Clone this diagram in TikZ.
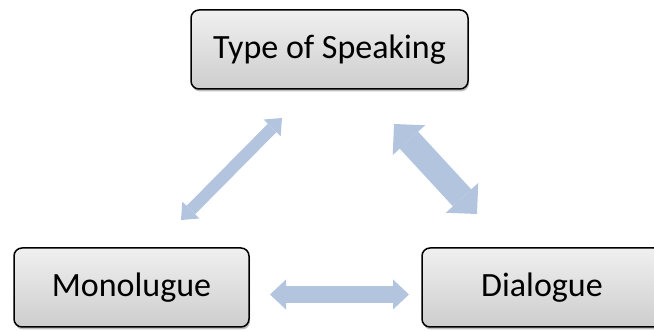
\documentclass[tikz,border=0pt]{standalone}
\usepackage{fontspec}
\setmainfont{Carlito}
\usetikzlibrary{arrows.meta,shadows}
\definecolor{arrowblue}{RGB}{179,196,222}
\definecolor{boxtop}{RGB}{240,240,240}
\definecolor{boxbot}{RGB}{205,205,205}
\tikzset{
  termbox/.style={draw=black, line width=1.5pt, rounded corners=8pt,
    top color=boxtop, bottom color=boxbot, inner sep=0pt,
    font=\fontsize{34}{40}\selectfont,
    drop shadow={shadow xshift=1pt, shadow yshift=-2.5pt, opacity=0.25, fill=black}},
  blockarrow/.style={draw=arrowblue, line width=#1},
}
\begin{document}
\begin{tikzpicture}[x=1pt,y=-1pt]
\useasboundingbox (0,0) rectangle (654,331);
\node[termbox, minimum width=277pt, minimum height=79pt] (top) at (329.5,49.5) {Type of Speaking};
\node[termbox, minimum width=235pt, minimum height=79pt] (mono) at (131.5,287.5) {Monolugue};
\node[termbox, minimum width=240pt, minimum height=79pt] (dia) at (542,287.5) {Dialogue};
% arrow end points
\coordinate (l1) at (181,220);
\coordinate (l2) at (282,118);
\coordinate (r1) at (394,124);
\coordinate (r2) at (477,214);
\coordinate (h1) at (270,294.5);
\coordinate (h2) at (409,294.5);
\draw[blockarrow=12pt,
  {Triangle[width=24pt,length=14pt,line width=0pt]}-{Triangle[width=24pt,length=14pt,line width=0pt]}] (l1) -- (l2);
\draw[blockarrow=25pt,
  {Triangle[width=44pt,length=22pt,line width=0pt]}-{Triangle[width=44pt,length=22pt,line width=0pt]}] (r1) -- (r2);
\draw[blockarrow=17pt,
  {Triangle[width=30pt,length=16pt,line width=0pt]}-{Triangle[width=30pt,length=16pt,line width=0pt]}] (h1) -- (h2);
\end{tikzpicture}
\end{document}
